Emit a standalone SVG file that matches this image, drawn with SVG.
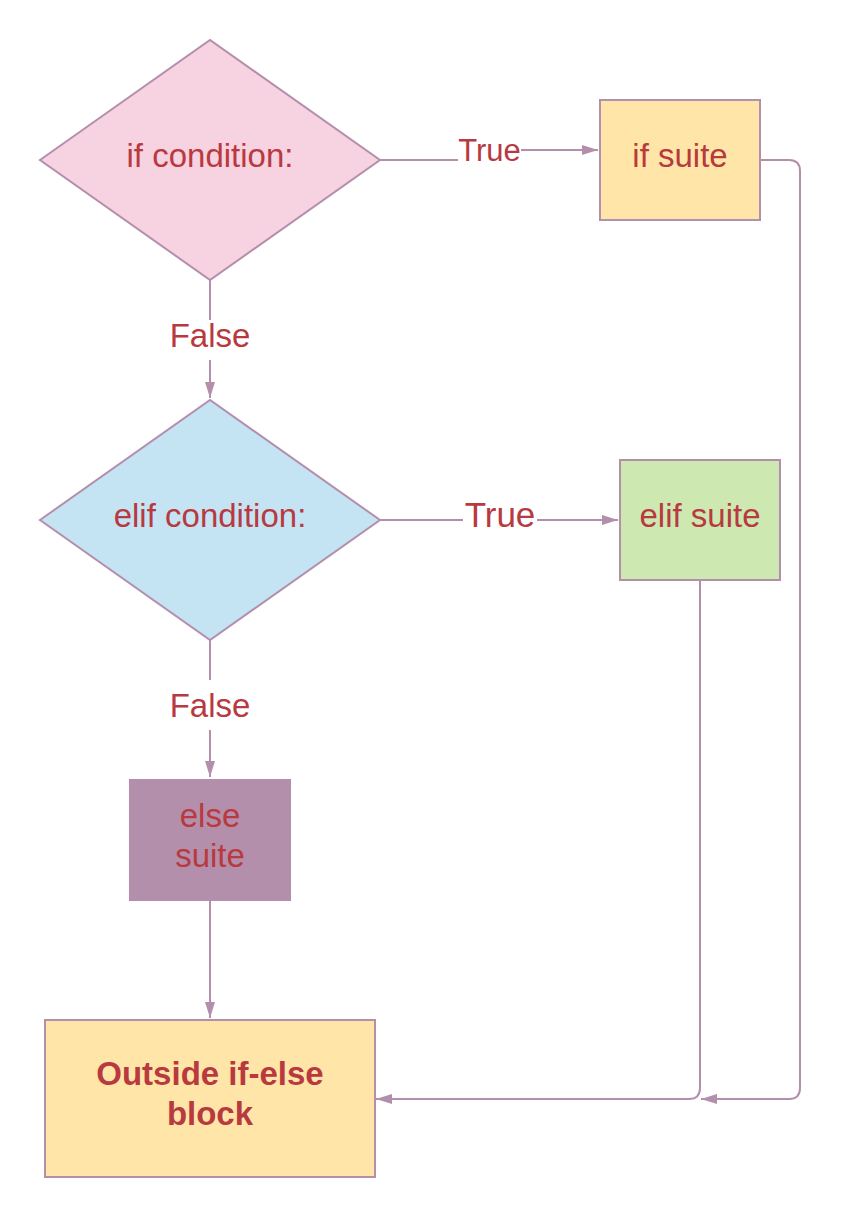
<svg xmlns="http://www.w3.org/2000/svg" width="841" height="1218" viewBox="0 0 841 1218">
<defs>
<marker id="arr" markerWidth="16" markerHeight="10" refX="16" refY="5" orient="auto" markerUnits="userSpaceOnUse">
<path d="M0,0 L16,5 L0,10 Z" fill="#b48fab"/>
</marker>
<style>
.shape{stroke:#b48fab;stroke-width:2}
.lbl{font-family:"Liberation Sans",Arial,sans-serif;fill:#b8393f;text-anchor:middle;font-size:33px}
.bold{font-weight:bold}
.con{fill:none;stroke:#b48fab;stroke-width:2}
</style>
</defs>
<rect width="841" height="1218" fill="#ffffff"/>
<g id="connectors">
<path class="con" d="M380,160 H458"/>
<path class="con" d="M521,150 H598" marker-end="url(#arr)"/>
<path class="con" d="M210,280 V320"/>
<path class="con" d="M210,360 V398" marker-end="url(#arr)"/>
<path class="con" d="M380,520 H463"/>
<path class="con" d="M537,520 H618" marker-end="url(#arr)"/>
<path class="con" d="M210,640 V680"/>
<path class="con" d="M210,730 V777" marker-end="url(#arr)"/>
<path class="con" d="M210,901 V1018" marker-end="url(#arr)"/>
<path class="con" d="M760,160 H789 Q800,160 800,171 V1088 Q800,1099 789,1099 H701" marker-end="url(#arr)"/>
<path class="con" d="M700,580 V1088 Q700,1099 689,1099 H376" marker-end="url(#arr)"/>
<text class="lbl" x="489.5" y="161" style="font-size:31px">True</text>
<text class="lbl" x="500" y="527" style="font-size:35px">True</text>
<text class="lbl" x="210" y="347">False</text>
<text class="lbl" x="210" y="717">False</text>
</g>
<g id="if-condition">
<polygon class="shape" points="40,160 210,40 380,160 210,280" fill="#f7d2e0"/>
<text class="lbl" x="210" y="167">if condition:</text>
</g>
<g id="if-suite">
<rect class="shape" x="600" y="100" width="160" height="120" fill="#ffe6a8"/>
<text class="lbl" x="680" y="167">if suite</text>
</g>
<g id="elif-condition">
<polygon class="shape" points="40,520 210,400 380,520 210,640" fill="#c4e4f4"/>
<text class="lbl" x="210" y="527">elif condition:</text>
</g>
<g id="elif-suite">
<rect class="shape" x="620" y="460" width="160" height="120" fill="#cde8b1"/>
<text class="lbl" x="700" y="527">elif suite</text>
</g>
<g id="else-suite">
<rect x="129" y="779" width="162" height="122" fill="#b48fab"/>
<text class="lbl" x="210" y="827">else</text>
<text class="lbl" x="210" y="867">suite</text>
</g>
<g id="outside">
<rect class="shape" x="45" y="1020" width="330" height="157" fill="#ffe6a8"/>
<text class="lbl bold" x="210" y="1085">Outside if-else</text>
<text class="lbl bold" x="210" y="1125">block</text>
</g>
</svg>
